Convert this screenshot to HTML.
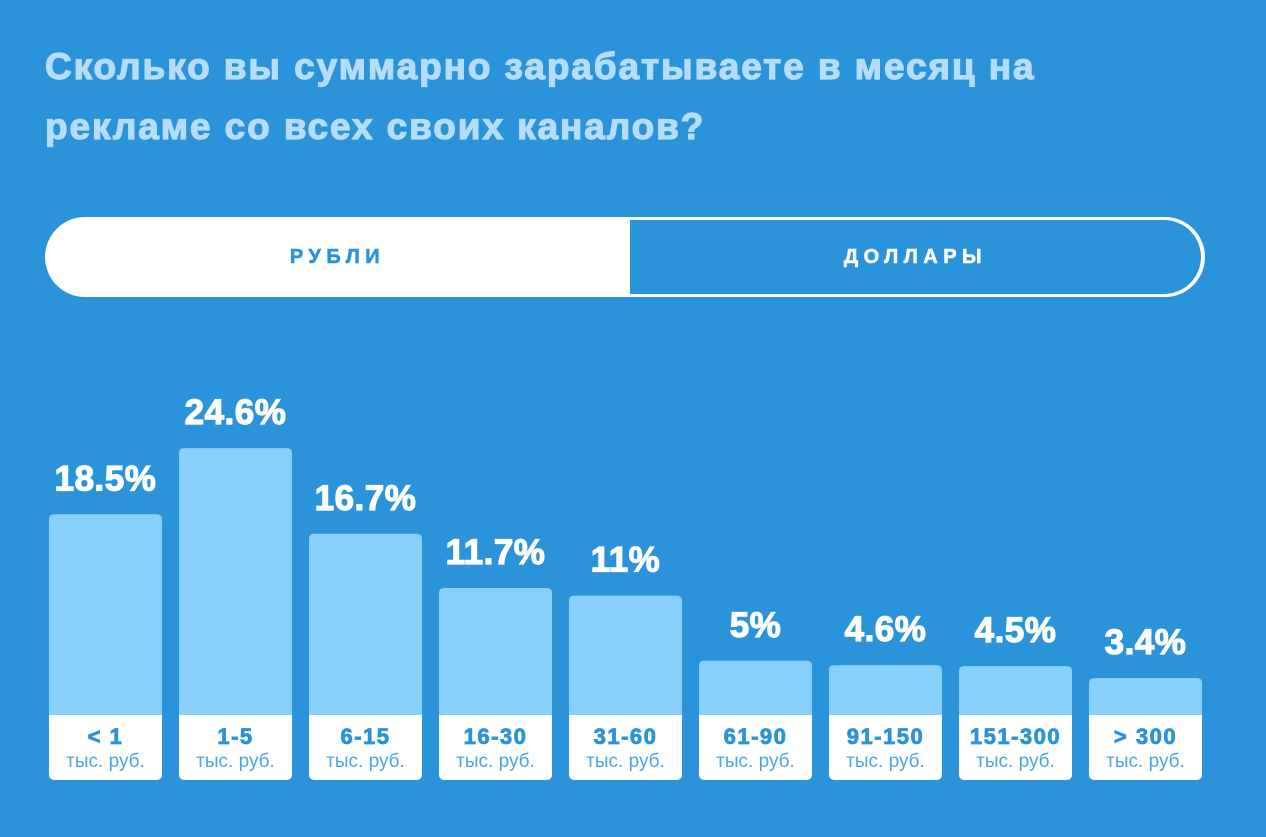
<!DOCTYPE html>
<html><head><meta charset="utf-8"><style>
body{margin:0;width:1266px;height:837px;background:#2a93da;overflow:hidden;font-family:"Liberation Sans","DejaVu Sans",sans-serif;position:relative}
.title{position:absolute;left:45px;top:37px;color:#b5dcf8;font-weight:bold;font-size:37px;line-height:60px;letter-spacing:1.9px;width:1200px;white-space:nowrap;-webkit-text-stroke:1.2px #b5dcf8}
.toggle{position:absolute;left:45px;top:217px;width:1160px;height:80px;border-radius:40px;overflow:hidden;background:#fff}
.tg-r{position:absolute;left:585px;top:0;width:571px;height:74px;background:#2a93da;border:3px solid #fff;border-left:none;border-radius:0 40px 40px 0}
.tg-t{position:absolute;top:0;line-height:80px;font-weight:bold;font-size:20px;letter-spacing:5.5px;text-align:center;-webkit-text-stroke:0.6px currentColor}
</style></head><body>
<div class="title">Сколько вы суммарно зарабатываете в месяц на<br>рекламе со всех своих каналов?</div>
<div class="toggle">
<div class="tg-t" style="left:0;width:585px;color:#2a93da">РУБЛИ</div>
<div class="tg-r"><div class="tg-t" style="left:0;width:571px;color:#fff;line-height:74px">ДОЛЛАРЫ</div></div>
</div>
<svg id="chart" width="1266" height="837" style="position:absolute;left:0;top:0"></svg>
<script>
const categories=["< 1","1-5","6-15","16-30","31-60","61-90","91-150","151-300","> 300"];
const values=[18.5,24.6,16.7,11.7,11,5,4.6,4.5,3.4];
const valueLabels=["18.5%","24.6%","16.7%","11.7%","11%","5%","4.6%","4.5%","3.4%"];
const unitLabel="тыс. руб.";
const NS="http://www.w3.org/2000/svg";
const svg=document.getElementById('chart');
const base=715, perPct=10.85, x0=49, pitch=130, bw=113;
function xPos(i){return x0+i*pitch;}
function yPos(v){return base-v*perPct;}
function mk(t,a,txt){const e=document.createElementNS(NS,t);for(const k in a)e.setAttribute(k,a[k]);if(txt!==undefined)e.textContent=txt;svg.appendChild(e);return e;}
values.forEach((v,i)=>{
  const x=xPos(i), y=yPos(v);
  const b=mk('path',{d:`M${x},${base} V${y+5} Q${x},${y} ${x+5},${y} H${x+bw-5} Q${x+bw},${y} ${x+bw},${y+5} V${base} Z`,fill:'#88cff9'});
  
  
  const lb=mk('rect',{x:x,y:base,width:bw,height:65,rx:5,fill:'#fff'});
  
  
  mk('rect',{x:x,y:base,width:bw,height:8,fill:'#fff'});
  const c=mk('text',{x:x+bw/2,y:base+29,'text-anchor':'middle','font-size':22,'font-weight':'bold',fill:'#2a93da','letter-spacing':1.5,stroke:'#2a93da','stroke-width':0.8},categories[i]);
  
  
  const u=mk('text',{x:x+bw/2,y:base+52,'text-anchor':'middle','font-size':19,fill:'#4aa6e2'},unitLabel);
  
  
  const t=mk('text',{x:x+bw/2,y:y-24,'text-anchor':'middle','font-size':35,'font-weight':'bold',fill:'#fff','letter-spacing':0.5,stroke:'#fff','stroke-width':1.2},valueLabels[i]);
  
  
});
</script>
</body></html>
